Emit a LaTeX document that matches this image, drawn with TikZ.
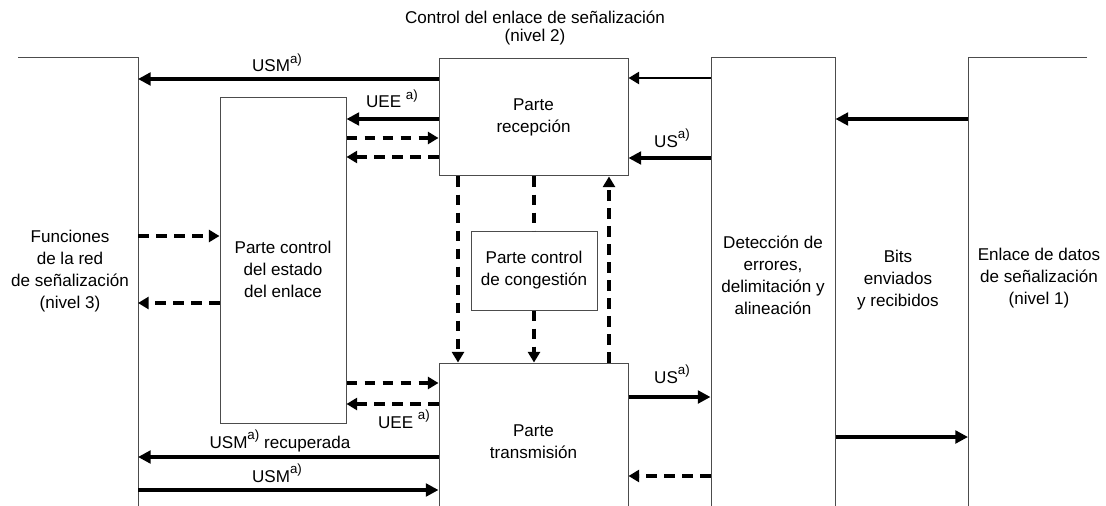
\documentclass[tikz,border=0pt]{standalone}
\usepackage{fontspec}
\setmainfont{Liberation Sans}
\usetikzlibrary{arrows.meta}
\newcommand\supA{\raisebox{6.4pt}{\fontsize{10}{10}\selectfont a)}}

\begin{document}
\begin{tikzpicture}[x=0.75pt,y=-0.75pt,
    font=\fontsize{12.8}{16.5}\selectfont,
    box/.style={draw=black!70,line width=0.75pt,align=center,inner sep=0pt},
    txt/.style={align=center,inner sep=0pt},
    lbl/.style={anchor=base,inner sep=0pt},
    frame/.style={draw=black!70,line width=0.75pt},
    big/.style={line width=3.4pt,-{Triangle[length=9.5pt,width=9.5pt]}},
    small/.style={line width=2pt,-{Triangle[length=8pt,width=9pt]}},
    ctl/.style={line width=2.4pt,dash pattern=on 8pt off 5.5pt},
    ctlarr/.style={ctl,-{Triangle[length=8pt,width=9pt]}}]
  \path[use as bounding box,clip] (0,0) rectangle (1106,506);

  \coordinate (lft) at (138,58);
  \coordinate (rgt) at (968,58);
  \draw[frame] (18,58) -- (lft) -- (138,520);
  \draw[frame] (1087,58) -- (rgt) -- (968,520);

  \node[box,minimum width=141.75pt,minimum height=87.75pt] (rec) at (533.5,117.5) {Parte\\recepción};
  \node[box,minimum width=141.75pt,minimum height=117.75pt] (tra) at (533.5,441.5) {Parte\\transmisión};
  \node[box,minimum width=94.5pt,minimum height=243.75pt] (est) at (283,260.5) {};
  \node[box,minimum width=94.5pt,minimum height=59.25pt] (cong) at (534,270.5) {Parte control\\de congestión};
  \node[box,minimum width=93pt,minimum height=346.5pt] (det) at (773,289) {};

  \node[txt,font=\fontsize{12.8}{13.5}\selectfont] (ttl) at (535,27.5) {Control del enlace de señalización\\(nivel 2)};
  \node[txt] (red) at (70,271.5) {Funciones\\de la red\\de señalización\\(nivel 3)};
  \node[txt] (estT) at (283,269) {Parte control\\del estado\\del enlace};
  \node[txt] (detT) at (773,275.5) {Detección de\\errores,\\delimitación y\\alineación};
  \node[txt] (bits) at (898,280.5) {Bits\\enviados\\y recibidos};
  \node[txt] (enl) at (1039,278.5) {Enlace de datos\\de señalización\\(nivel 1)};

  \node[lbl] (usm1) at (277,72) {USM\supA};
  \node[lbl] (uee1) at (392,108) {UEE \supA};
  \node[lbl] (us1) at (672,147) {US\supA};
  \node[lbl] (us2) at (672,383) {US\supA};
  \node[lbl] (uee2) at (404,428) {UEE \supA};
  \node[lbl] (usm2) at (280,448) {USM\supA{} recuperada};
  \node[lbl] (usm3) at (277,482) {USM\supA};

  \begin{scope}
    \draw[big] (rec.west |- 0,79) -- (lft |- 0,79);
    \draw[big] (rec.west |- 0,119) -- (est.east |- 0,119);
    \draw[small] (det.west |- 0,78) -- (rec.east |- 0,78);
    \draw[big] (det.west |- 0,158) -- (rec.east |- 0,158);
    \draw[big] (rgt |- 0,119) -- (det.east |- 0,119);
    \draw[big] (tra.west |- 0,457) -- (lft |- 0,457);
    \draw[big] (lft |- 0,490) -- (tra.west |- 0,490);
    \draw[big] (tra.east |- 0,397) -- (det.west |- 0,397);
    \draw[big] (det.east |- 0,437) -- (rgt |- 0,437);
  \end{scope}
  \begin{scope}
    \draw[ctlarr] (est.east |- 0,138) -- (rec.west |- 0,138);
    \draw[ctlarr] (rec.west |- 0,157) -- (est.east |- 0,157);
    \draw[ctlarr] (lft |- 0,236) -- (est.west |- 0,236);
    \draw[ctlarr] (est.west |- 0,303) -- (lft |- 0,303);
    \draw[ctlarr] (est.east |- 0,383) -- (tra.west |- 0,383);
    \draw[ctlarr] (tra.west |- 0,404) -- (est.east |- 0,404);
    \draw[ctlarr] (det.west |- 0,476) -- (tra.east |- 0,476);
    \draw[ctlarr] (rec.south -| 458,0) -- (tra.north -| 458,0);
    \draw[ctl] (rec.south -| cong.north) -- (cong.north);
    \draw[ctlarr] (cong.south) -- (tra.north -| cong.south);
    \draw[ctlarr] (tra.north -| 609,0) -- (rec.south -| 609,0);
  \end{scope}
\end{tikzpicture}
\end{document}
